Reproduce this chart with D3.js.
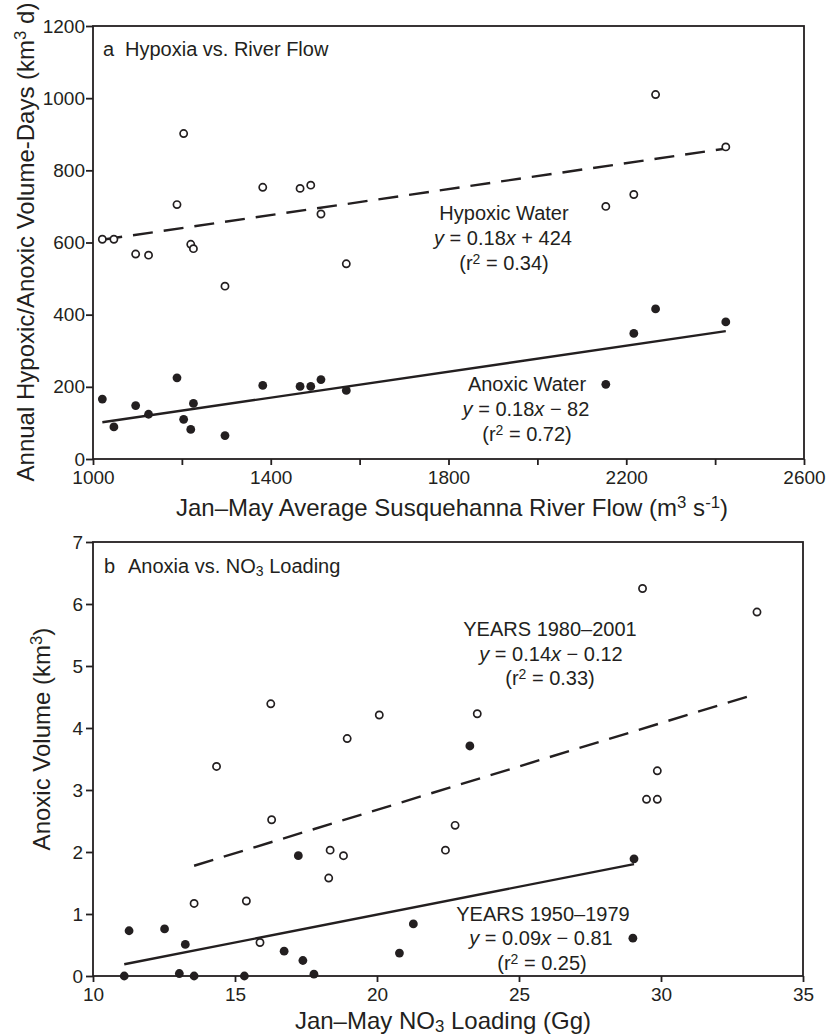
<!DOCTYPE html>
<html>
<head>
<meta charset="utf-8">
<script src="https://cdn.jsdelivr.net/npm/d3@7"></script>
<style>
  body { margin: 0; background: #fff; }
  svg { display: block; font-family: "Liberation Sans", Arial, Helvetica, sans-serif; }
</style>
</head>
<body>
<svg id="chart" width="827" height="1035"></svg>
<script>
// ---- Panel a: volume-days vs. Jan–May river flow (one entry per year) ----
const riverFlow      = [1021, 1047, 1096, 1125, 1189, 1204, 1220, 1226, 1297, 1382, 1466, 1490, 1513, 1570, 2154, 2217, 2266, 2424];
const hypoxicVolDays = [ 609,  609,  568,  565,  705,  902,  595,  583,  479,  753,  750,  759,  679,  541,  700,  733, 1010,  865];
const anoxicVolDays  = [ 166,   89,  148,  124,  225,  110,   82,  154,   65,  204,  201,  201,  220,  190,  207,  348,  416,  380];
const hypoxicFit = [0.18, 424];   // slope, intercept
const anoxicFit  = [0.18, -82];
const flowTicks  = [1000, 1200, 1400, 1600, 1800, 2000, 2200, 2400, 2600];
const flowLabels = [1000, 1400, 1800, 2200, 2600];
const volDayTicks = [0, 200, 400, 600, 800, 1000, 1200];

// ---- Panel b: anoxic volume vs. Jan–May nitrate loading ----
const nitrateRecent = [16.26, 20.08, 18.95, 14.35, 16.29, 22.75, 22.41, 18.35, 18.82, 18.30, 13.56, 15.40, 15.88, 29.35, 33.38, 23.53, 29.87, 29.49, 29.87];
const anoxicRecent  = [ 4.39,  4.21,  3.83,  3.38,  2.52,  2.43,  2.03,  2.03,  1.94,  1.58,  1.17,  1.21,  0.54,  6.25,  5.87,  4.23,  3.31,  2.85,  2.85];
const nitrateEarly  = [11.27, 12.52, 13.25, 11.10, 13.04, 13.56, 15.33, 17.23, 16.73, 17.39, 17.78, 20.79, 21.28, 23.27, 29.05, 29.01];
const anoxicEarly   = [ 0.73,  0.76,  0.51,  0.00,  0.04,  0.00,  0.00,  1.94,  0.40,  0.25,  0.03,  0.37,  0.84,  3.71,  1.89,  0.61];
const recentFit = [0.14, -0.12];
const earlyFit  = [0.09, -0.81];
const nitrateTicks = [10, 15, 20, 25, 30, 35];
const volumeTicks  = [0, 1, 2, 3, 4, 5, 6, 7];

const ink = "#231f20";
const svg = d3.select("#chart");

// Text built from runs: {t, i: italic, sup, sub}
function rich(x, y, parts, opts = {}) {
  const t = svg.append("text")
    .attr("x", x).attr("y", y)
    .attr("fill", ink)
    .attr("font-size", opts.size || 20)
    .attr("text-anchor", opts.anchor || "start");
  if (opts.rotate) t.attr("transform", `rotate(-90 ${x} ${y})`);
  parts.forEach(p => {
    const s = t.append("tspan").text(p.t);
    if (p.i) s.attr("font-style", "italic");
    if (p.sup) s.attr("font-size", "70%").attr("baseline-shift", "45%");
    if (p.sub) s.attr("font-size", "70%").attr("baseline-shift", "-20%");
  });
  return t;
}

function frame(x, y) {
  const [x0, x1] = x.range(), [y0, y1] = y.range();
  svg.append("rect")
    .attr("x", x0).attr("y", y1)
    .attr("width", x1 - x0).attr("height", y0 - y1)
    .attr("fill", "none").attr("stroke", ink).attr("stroke-width", 1.8);
}

function styleAxis(g) {
  g.select(".domain").remove();
  g.selectAll(".tick line").attr("stroke", ink).attr("stroke-width", 1.8);
  g.selectAll(".tick text").attr("fill", ink).attr("font-size", 19)
    .attr("font-family", "Liberation Sans, Arial, Helvetica, sans-serif");
}

function fitLine(x, y, fit, xs, dashed) {
  const ext = d3.extent(xs);
  svg.append("line")
    .attr("x1", x(ext[0])).attr("y1", y(fit[0] * ext[0] + fit[1]))
    .attr("x2", x(ext[1])).attr("y2", y(fit[0] * ext[1] + fit[1]))
    .attr("stroke", ink).attr("stroke-width", 2.4)
    .attr("stroke-dasharray", dashed ? "20,11" : null);
}

function points(x, y, xs, ys, filled) {
  svg.append("g").selectAll("circle")
    .data(xs.map((v, i) => [v, ys[i]]))
    .join("circle")
    .attr("cx", d => x(d[0])).attr("cy", d => y(d[1]))
    .attr("r", filled ? 4.4 : 3.6)
    .attr("fill", filled ? ink : "#fff")
    .attr("stroke", ink).attr("stroke-width", filled ? 0 : 1.7);
}

// ================= Panel a =================
const xA = d3.scaleLinear().domain([1000, 2600]).range([93, 804]);
const yA = d3.scaleLinear().domain([0, 1200]).range([459, 26]);

fitLine(xA, yA, hypoxicFit, riverFlow, true);
fitLine(xA, yA, anoxicFit, riverFlow, false);
points(xA, yA, riverFlow, hypoxicVolDays, false);
points(xA, yA, riverFlow, anoxicVolDays, true);
frame(xA, yA);

svg.append("g").attr("transform", `translate(0,${yA.range()[0]})`)
  .call(d3.axisBottom(xA).tickValues(flowTicks)
    .tickFormat(d => flowLabels.includes(d) ? d : "")
    .tickSize(6).tickPadding(6).tickSizeOuter(0))
  .call(styleAxis);
svg.append("g").attr("transform", `translate(${xA.range()[0]},0)`)
  .call(d3.axisLeft(yA).tickValues(volDayTicks).tickFormat(d3.format("d"))
    .tickSize(7).tickPadding(1).tickSizeOuter(0))
  .call(styleAxis);

rich(103, 56, [{t: "a"}]);
rich(125, 56, [{t: "Hypoxia vs. River Flow"}]);

rich(504, 220, [{t: "Hypoxic Water"}], {anchor: "middle"});
rich(503, 245, [{t: "y", i: 1}, {t: " = 0.18"}, {t: "x", i: 1}, {t: " + 424"}], {anchor: "middle"});
rich(504, 270, [{t: "(r"}, {t: "2", sup: 1}, {t: " = 0.34)"}], {anchor: "middle"});
rich(527, 391, [{t: "Anoxic Water"}], {anchor: "middle"});
rich(526, 416, [{t: "y", i: 1}, {t: " = 0.18"}, {t: "x", i: 1}, {t: " \u2212 82"}], {anchor: "middle"});
rich(527, 441, [{t: "(r"}, {t: "2", sup: 1}, {t: " = 0.72)"}], {anchor: "middle"});

rich(452, 516, [{t: "Jan\u2013May Average Susquehanna River Flow (m"}, {t: "3", sup: 1}, {t: " s"}, {t: "-1", sup: 1}, {t: ")"}],
  {anchor: "middle", size: 24});
rich(34, 242, [{t: "Annual Hypoxic/Anoxic Volume-Days (km"}, {t: "3", sup: 1}, {t: " d)"}],
  {anchor: "middle", size: 24, rotate: true});

// ================= Panel b =================
const xB = d3.scaleLinear().domain([10, 35]).range([93, 803]);
const yB = d3.scaleLinear().domain([0, 7]).range([976, 542]);

fitLine(xB, yB, recentFit, nitrateRecent, true);
fitLine(xB, yB, earlyFit, nitrateEarly, false);
points(xB, yB, nitrateRecent, anoxicRecent, false);
points(xB, yB, nitrateEarly, anoxicEarly, true);
frame(xB, yB);

svg.append("g").attr("transform", `translate(0,${yB.range()[0]})`)
  .call(d3.axisBottom(xB).tickValues(nitrateTicks).tickFormat(d3.format("d"))
    .tickSize(6).tickPadding(6).tickSizeOuter(0))
  .call(styleAxis);
svg.append("g").attr("transform", `translate(${xB.range()[0]},0)`)
  .call(d3.axisLeft(yB).tickValues(volumeTicks).tickFormat(d3.format("d"))
    .tickSize(7).tickPadding(3).tickSizeOuter(0))
  .call(styleAxis);

rich(104, 573, [{t: "b"}]);
rich(128, 573, [{t: "Anoxia vs. NO"}, {t: "3", sub: 1}, {t: " Loading"}]);

rich(550, 636, [{t: "YEARS 1980\u20132001"}], {anchor: "middle"});
rich(551, 661, [{t: "y", i: 1}, {t: " = 0.14"}, {t: "x", i: 1}, {t: " \u2212 0.12"}], {anchor: "middle"});
rich(550, 685, [{t: "(r"}, {t: "2", sup: 1}, {t: " = 0.33)"}], {anchor: "middle"});
rich(543, 921, [{t: "YEARS 1950\u20131979"}], {anchor: "middle"});
rich(541, 945, [{t: "y", i: 1}, {t: " = 0.09"}, {t: "x", i: 1}, {t: " \u2212 0.81"}], {anchor: "middle"});
rich(542, 970, [{t: "(r"}, {t: "2", sup: 1}, {t: " = 0.25)"}], {anchor: "middle"});

rich(443, 1029, [{t: "Jan\u2013May NO"}, {t: "3", sub: 1}, {t: " Loading (Gg)"}], {anchor: "middle", size: 24});
rich(50, 739, [{t: "Anoxic Volume (km"}, {t: "3", sup: 1}, {t: ")"}], {anchor: "middle", size: 24, rotate: true});
</script>
</body>
</html>
